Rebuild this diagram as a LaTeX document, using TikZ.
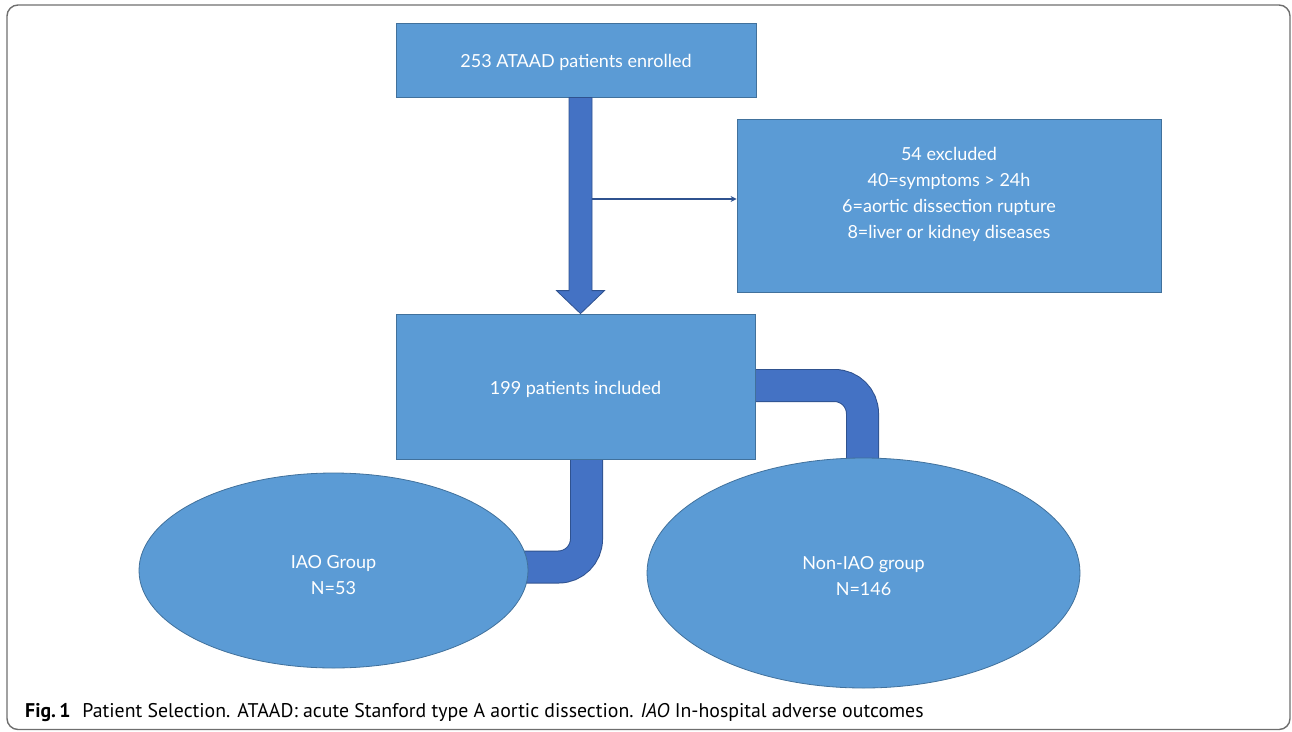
\documentclass[tikz,border=0pt]{standalone}
\usepackage{fontspec}
\setmainfont{Lato}
\newfontfamily\capfont{PT Sans}
\usetikzlibrary{shapes.geometric,arrows.meta,calc}
\definecolor{boxfill}{RGB}{91,155,213}
\definecolor{boxline}{RGB}{65,113,156}
\definecolor{connfill}{RGB}{68,114,196}
\definecolor{connline}{RGB}{47,82,143}
\definecolor{framegray}{RGB}{110,110,110}
\pgfdeclarelayer{bg}
\pgfsetlayers{bg,main}
\tikzset{
  box/.style={draw=boxline, line width=0.8pt, fill=boxfill, rectangle, inner sep=0pt},
  oval/.style={draw=boxline, line width=0.8pt, fill=boxfill, ellipse, inner sep=0pt},
  txt/.style={text=white, font=\fontsize{18}{26}\selectfont, align=center, inner sep=0pt},
  bandout/.style={draw=connline, line width=33pt, rounded corners=28pt},
  bandin/.style={draw=connfill, line width=31pt, rounded corners=28pt},
  thinarrow/.style={draw=connline, line width=2pt, -{Stealth[length=6pt,width=6pt]}},
  fatarrow/.style={fill=connfill, draw=connline, line width=0.8pt, line join=miter},
}
\begin{document}
\begin{tikzpicture}[x=1pt,y=-1pt]
\useasboundingbox (0,0) rectangle (1292,731);
\draw[framegray, line width=1.4pt, rounded corners=11pt] (7,5) rectangle (1290,729.5);

\node[box, minimum width=360pt, minimum height=74pt, label={[txt,yshift=-2.5pt]center:253 ATAAD patients enrolled}] (enrolled) at (576,60) {};
\node[box, minimum width=424pt, minimum height=173pt] (excl) at (949,205.5) {};
\node[txt] (excltext) at (949,194.5) {54 excluded\\40=symptoms > 24h\\6=aortic dissection rupture\\8=liver or kidney diseases};
\node[box, minimum width=359pt, minimum height=145pt, label={[txt,yshift=-2.5pt]center:199 patients included}] (included) at (575.5,386.5) {};
\node[oval, minimum width=389pt, minimum height=195pt, label={[txt,yshift=-5pt]center:IAO Group\\N=53}] (iao) at (333.5,570.5) {};
\node[oval, minimum width=433pt, minimum height=230pt, label={[txt,yshift=-3.5pt]center:Non-IAO group\\N=146}] (noniao) at (863.5,573) {};

% main fat arrow
\coordinate (mtop) at ([xshift=4.5pt]enrolled.south);
\coordinate (mtip) at ([xshift=5pt]included.north);
\draw[fatarrow] ([xshift=-11.5pt]mtop) -- ([xshift=-11.5pt,yshift=23pt]mtip) -- ([xshift=-24pt,yshift=23pt]mtip) -- (mtip) -- ([xshift=24pt,yshift=23pt]mtip) -- ([xshift=11.5pt,yshift=23pt]mtip) -- ([xshift=11.5pt]mtop) -- cycle;

% branch to excluded
\coordinate (branch) at (592,199);
\draw[thinarrow] (branch) -- (branch -| excl.west);

% elbow bands
\begin{pgfonlayer}{bg}
\draw[bandout] ([xshift=-15pt,yshift=1pt]included.east) -| ([yshift=-14pt,xshift=-1pt]noniao.north);
\draw[bandin] ([xshift=-15pt,yshift=1pt]included.east) -| ([yshift=-14pt,xshift=-1pt]noniao.north);
\draw[bandout] ([xshift=11pt,yshift=10pt]included.south) |- ([xshift=-14pt,yshift=3.5pt]iao.east);
\draw[bandin] ([xshift=11pt,yshift=10pt]included.south) |- ([xshift=-14pt,yshift=3.5pt]iao.east);
\end{pgfonlayer}

\node[anchor=base west, inner sep=0pt, font=\capfont\fontsize{19.8}{24}\selectfont] (caption) at (25,717) {\textbf{Fig.\,1}\hspace{0.6em}Patient Selection. ATAAD: acute Stanford type A aortic dissection. \textit{IAO} In-hospital adverse outcomes};
\end{tikzpicture}
\end{document}
